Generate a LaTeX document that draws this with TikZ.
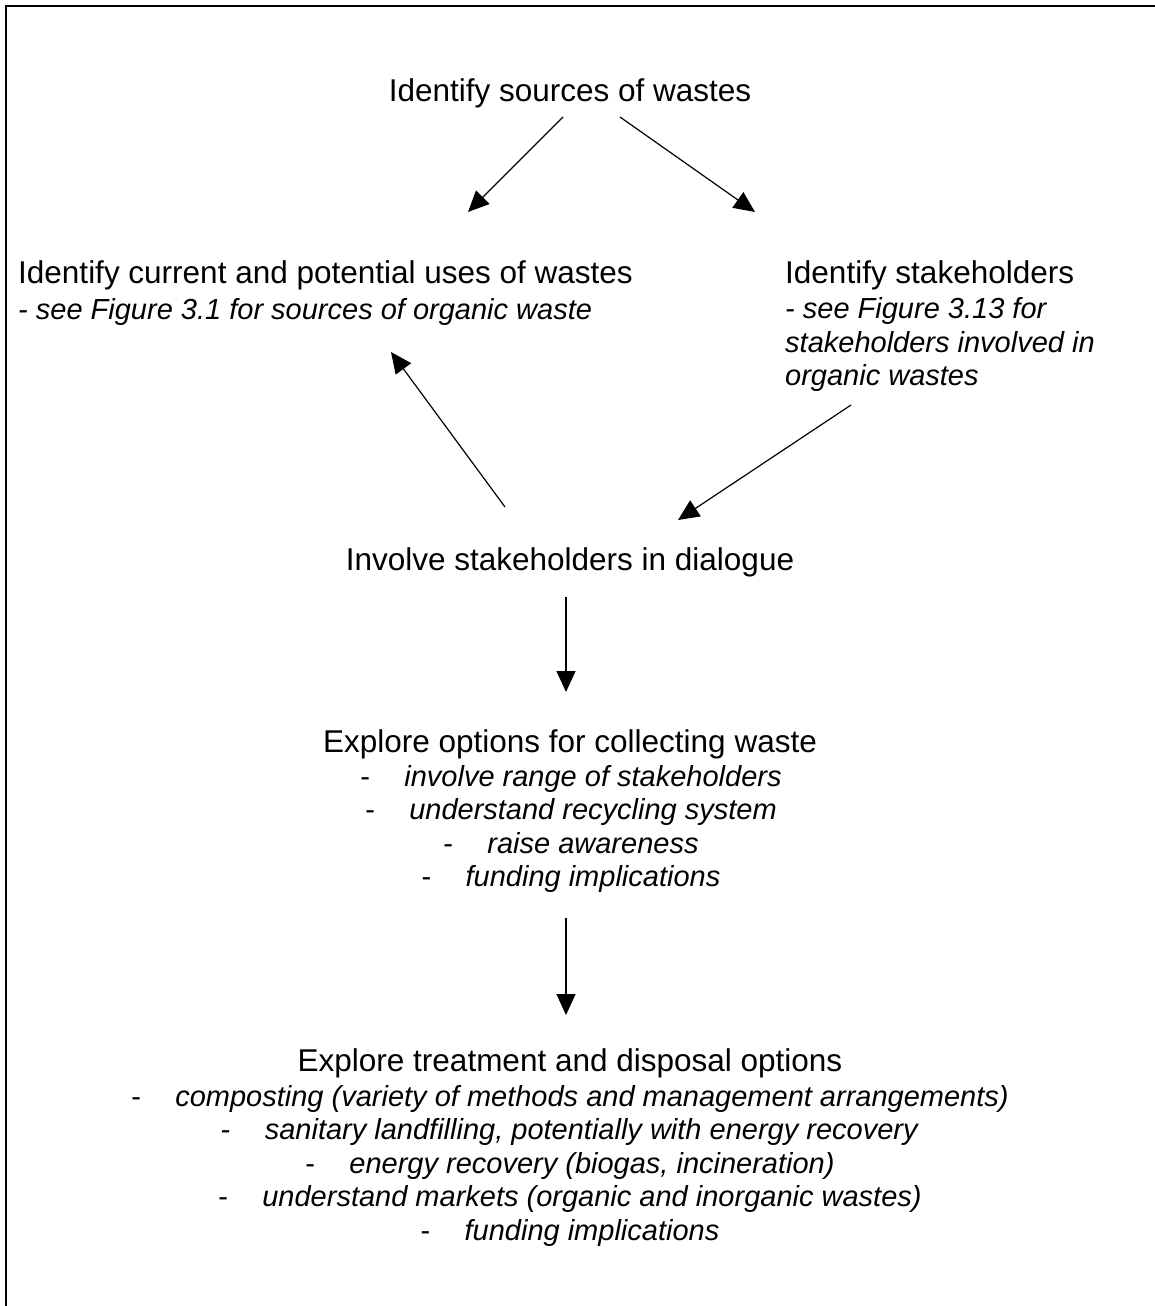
\documentclass[tikz,border=0pt]{standalone}
\usepackage{fontspec}
\setmainfont{Liberation Sans}
\usetikzlibrary{arrows.meta}
\newcommand\dashitem[1]{\makebox[44pt][l]{-}\textit{#1}}
\begin{document}
\begin{tikzpicture}[x=1pt,y=-1pt,
  main/.style={inner sep=0pt, font=\fontsize{31.5}{36}\selectfont},
  note/.style={inner sep=0pt, font=\fontsize{29}{33}\selectfont\itshape},
  item/.style={inner sep=0pt, font=\fontsize{29}{33}\selectfont},
  arr/.style={line width=1.2pt, -{Triangle[length=21pt,width=19pt]}}]
\useasboundingbox (0,0) rectangle (1155,1306);
\draw[line width=2pt] (6,1306) -- (6,6) -- (1155,6);

% top
\node[main, anchor=base] (src) at (570,101) {Identify sources of wastes};

% left block
\node[main, anchor=base west] (uses) at (18,283) {Identify current and potential uses of wastes};
\node[note, anchor=base west] (usesnote) at (18,319) {- see Figure 3.1 for sources of organic waste};

% right block
\node[main, anchor=base west] (stake) at (785,283) {Identify stakeholders};
\node[note, anchor=base west] (stake1) at (785,318) {- see Figure 3.13 for};
\node[note, anchor=base west] (stake2) at (785,352) {stakeholders involved in};
\node[note, anchor=base west] (stake3) at (785,385) {organic wastes};

% dialogue
\node[main, anchor=base] (dial) at (570,570) {Involve stakeholders in dialogue};

% collecting
\node[main, anchor=base] (coll) at (570,752) {Explore options for collecting waste};
\node[item, anchor=base] (c1) at (571,786) {\dashitem{involve range of stakeholders}};
\node[item, anchor=base] (c2) at (571,819.5) {\dashitem{understand recycling system}};
\node[item, anchor=base] (c3) at (571,853) {\dashitem{raise awareness}};
\node[item, anchor=base] (c4) at (571,886.5) {\dashitem{funding implications}};

% treatment
\node[main, anchor=base] (treat) at (570,1071) {Explore treatment and disposal options};
\node[item, anchor=base] (t1) at (570,1106) {\dashitem{composting (variety of methods and management arrangements)}};
\node[item, anchor=base] (t2) at (570,1139.5) {\dashitem{sanitary landfilling, potentially with energy recovery}};
\node[item, anchor=base] (t3) at (570,1173) {\dashitem{energy recovery (biogas, incineration)}};
\node[item, anchor=base] (t4) at (570,1206.5) {\dashitem{understand markets (organic and inorganic wastes)}};
\node[item, anchor=base] (t5) at (570,1240) {\dashitem{funding implications}};

% connector end points
\coordinate (a1s) at (563,117);  \coordinate (a1e) at (468,212);
\coordinate (a2s) at (620,117);  \coordinate (a2e) at (755,212);
\coordinate (a3s) at (505,507);  \coordinate (a3e) at (391,352);
\coordinate (a4s) at (851,405);  \coordinate (a4e) at (678,520);
\coordinate (a5s) at (566,597);  \coordinate (a5e) at (566,692);
\coordinate (a6s) at (566,918);  \coordinate (a6e) at (566,1015);

\draw[arr] (a1s) -- (a1e);
\draw[arr] (a2s) -- (a2e);
\draw[arr] (a3s) -- (a3e);
\draw[arr] (a4s) -- (a4e);
\draw[arr] (a5s) -- (a5e);
\draw[arr] (a6s) -- (a6e);
\end{tikzpicture}
\end{document}
